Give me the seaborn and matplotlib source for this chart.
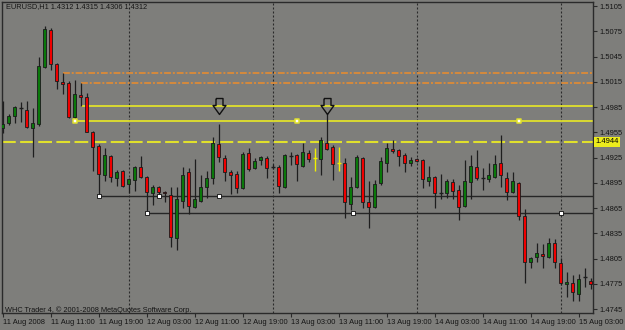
import matplotlib
matplotlib.use("Agg")
import matplotlib.pyplot as plt
import matplotlib.transforms as mtransforms
import seaborn as sns

# EURUSD H1 bars, first bar 11 Aug 2008 03:00
opens = [1.4960, 1.4966, 1.4974, 1.4984, 1.4981, 1.4960, 1.4965, 1.5033, 1.5076, 1.5036,
         1.5015, 1.5013, 1.4973, 1.4999, 1.4997, 1.4955, 1.4939, 1.4904, 1.4927, 1.4901,
         1.4909, 1.4893, 1.4898, 1.4914, 1.4902, 1.4883, 1.4890, 1.4884, 1.4880, 1.4829,
         1.4873, 1.4908, 1.4866, 1.4873, 1.4890, 1.4901, 1.4941, 1.4924, 1.4908, 1.4905,
         1.4889, 1.4930, 1.4912, 1.4922, 1.4924, 1.4914, 1.4914, 1.4890, 1.4927, 1.4928,
         1.4915, 1.4930, 1.4924, 1.4923, 1.4942, 1.4938, 1.4918, 1.4918, 1.4870, 1.4890,
         1.4924, 1.4872, 1.4866, 1.4895, 1.4918, 1.4935, 1.4934, 1.4928, 1.4918, 1.4923,
         1.4922, 1.4897, 1.4902, 1.4883, 1.4883, 1.4896, 1.4886, 1.4867, 1.4896, 1.4914,
         1.4901, 1.4899, 1.4902, 1.4918, 1.4901, 1.4884, 1.4895, 1.4856, 1.4801, 1.4807,
         1.4810, 1.4807, 1.4823, 1.4800, 1.4775, 1.4776, 1.4763, 1.4783, 1.4778]
highs = [1.4992, 1.4977, 1.4986, 1.4991, 1.4992, 1.4984, 1.5044, 1.5081, 1.5079, 1.5037,
         1.5025, 1.5016, 1.5017, 1.5013, 1.5002, 1.4957, 1.4941, 1.4936, 1.4928, 1.4910,
         1.4910, 1.4901, 1.4915, 1.4927, 1.4903, 1.4892, 1.4891, 1.4885, 1.4890, 1.4890,
         1.4914, 1.4912, 1.4923, 1.4904, 1.4909, 1.4949, 1.4965, 1.4928, 1.4910, 1.4909,
         1.4932, 1.4936, 1.4924, 1.4927, 1.4927, 1.4917, 1.4916, 1.4929, 1.4932, 1.4929,
         1.4942, 1.4934, 1.4936, 1.4949, 1.4978, 1.4940, 1.4938, 1.4924, 1.4902, 1.4928,
         1.4926, 1.4897, 1.4898, 1.4926, 1.4942, 1.4946, 1.4935, 1.4930, 1.4926, 1.4924,
         1.4923, 1.4915, 1.4903, 1.4905, 1.4899, 1.4899, 1.4892, 1.4922, 1.4928, 1.4934,
         1.4912, 1.4918, 1.4928, 1.4952, 1.4908, 1.4908, 1.4896, 1.4864, 1.4807, 1.4823,
         1.4822, 1.4829, 1.4828, 1.4806, 1.4789, 1.4785, 1.4787, 1.4794, 1.4782]
lows = [1.4954, 1.4964, 1.4966, 1.4967, 1.4960, 1.4926, 1.4962, 1.5031, 1.5029, 1.5006,
        1.5000, 1.4972, 1.4971, 1.4986, 1.4955, 1.4909, 1.4879, 1.4897, 1.4896, 1.4891,
        1.4890, 1.4883, 1.4885, 1.4901, 1.4860, 1.4869, 1.4878, 1.4872, 1.4819, 1.4815,
        1.4865, 1.4858, 1.4865, 1.4872, 1.4877, 1.4893, 1.4920, 1.4897, 1.4882, 1.4883,
        1.4888, 1.4909, 1.4911, 1.4916, 1.4901, 1.4911, 1.4883, 1.4889, 1.4916, 1.4897,
        1.4914, 1.4920, 1.4909, 1.4904, 1.4934, 1.4898, 1.4909, 1.4853, 1.4863, 1.4889,
        1.4865, 1.4841, 1.4865, 1.4892, 1.4908, 1.4930, 1.4915, 1.4908, 1.4915, 1.4920,
        1.4889, 1.4891, 1.4865, 1.4876, 1.4877, 1.4876, 1.4851, 1.4866, 1.4876, 1.4898,
        1.4886, 1.4896, 1.4901, 1.4890, 1.4874, 1.4883, 1.4851, 1.4776, 1.4794, 1.4801,
        1.4794, 1.4806, 1.4794, 1.4773, 1.4759, 1.4755, 1.4755, 1.4771, 1.4769]
closes = [1.4965, 1.4974, 1.4985, 1.4984, 1.4961, 1.4966, 1.5034, 1.5078, 1.5036, 1.5016,
          1.5012, 1.4973, 1.5000, 1.4997, 1.4955, 1.4938, 1.4905, 1.4928, 1.4902, 1.4908,
          1.4891, 1.4899, 1.4914, 1.4902, 1.4884, 1.4890, 1.4884, 1.4883, 1.4831, 1.4876,
          1.4904, 1.4867, 1.4876, 1.4890, 1.4901, 1.4942, 1.4926, 1.4908, 1.4904, 1.4889,
          1.4929, 1.4911, 1.4921, 1.4926, 1.4912, 1.4914, 1.4891, 1.4928, 1.4927, 1.4917,
          1.4932, 1.4923, 1.4924, 1.4946, 1.4935, 1.4917, 1.4918, 1.4872, 1.4890, 1.4926,
          1.4872, 1.4866, 1.4893, 1.4921, 1.4936, 1.4933, 1.4927, 1.4918, 1.4922, 1.4921,
          1.4899, 1.4902, 1.4883, 1.4883, 1.4897, 1.4885, 1.4866, 1.4897, 1.4915, 1.4901,
          1.4901, 1.4904, 1.4917, 1.4904, 1.4884, 1.4897, 1.4856, 1.4801, 1.4806, 1.4812,
          1.4808, 1.4823, 1.4801, 1.4776, 1.4777, 1.4765, 1.4781, 1.4783, 1.4775]
yellow_bars = [52, 56]

time_ticks = [0, 8, 16, 24, 32, 40, 48, 56, 64, 72, 80, 88, 96]
time_labels = ["11 Aug 2008", "11 Aug 11:00", "11 Aug 19:00", "12 Aug 03:00", "12 Aug 11:00",
               "12 Aug 19:00", "13 Aug 03:00", "13 Aug 11:00", "13 Aug 19:00", "14 Aug 03:00",
               "14 Aug 11:00", "14 Aug 19:00", "15 Aug 03:00"]
day_starts = [21, 45, 69, 93]
price_ticks = [1.5105, 1.5075, 1.5045, 1.5015, 1.4985, 1.4955, 1.4925, 1.4895,
               1.4865, 1.4835, 1.4805, 1.4775, 1.4745]
bid = 1.4944

# drawn objects: (price, first bar)
orange_levels = [(1.5025, 10), (1.5014, 13)]
yellow_levels = [(1.4986, 13), (1.4968, 12)]
yellow_marks = [12, 49, 86]
dark_levels = [(1.4879, 16), (1.4859, 24)]
dark_marks = [[16, 26, 36], [24, 58.3, 93]]
fractal_bars = [36, 54]
fractal_price = 1.4986

BG = "#7e7e7b"
TXT = "#151515"
WICK = "#1e1e1e"
YEL = "#e0e02c"

sns.set_style("ticks", rc={"axes.facecolor": BG, "figure.facecolor": BG,
                           "axes.edgecolor": "#2a2a2a"})
plt.rcParams["font.family"] = ["Liberation Sans", "DejaVu Sans"]

fig = plt.figure(figsize=(6.25, 3.3), dpi=100)
ax = fig.add_axes([2 / 625, 17 / 330, 591 / 625, 311 / 330])
ax.set_xlim(-0.12, 98.38)
ax.set_ylim(1.47403, 1.51098)

# levels
for x in day_starts:
    ax.axvline(x, color="#2a2a2a", lw=0.8, ls=(0, (1.8, 1.8)), zorder=1)
for p, start in orange_levels:
    ax.hlines(p, start, 98.4, color="#d68a3c", lw=1.4, ls=(0, (3.5, 1, 1, 1)), zorder=2)
for p, start in yellow_levels:
    ax.hlines(p, start, 98.4, color=YEL, lw=1.3, zorder=2)
ax.axhline(bid, color=YEL, lw=1.5, ls=(0, (6.6, 2.1)), zorder=2)
for (p, start), marks in zip(dark_levels, dark_marks):
    ax.hlines(p, start, 98.4, color="#262626", lw=1.0, zorder=2)
    sns.scatterplot(x=marks, y=[p] * len(marks), marker="s", s=9, color="white",
                    edgecolor="#222222", linewidth=0.7, ax=ax, zorder=6)
sns.scatterplot(x=yellow_marks, y=[yellow_levels[1][0]] * len(yellow_marks), marker="s",
                s=10, color="white", edgecolor=YEL, linewidth=1.1, ax=ax, zorder=6)

# candles
for i, (o, h, l, c) in enumerate(zip(opens, highs, lows, closes)):
    if i in yellow_bars:
        ax.vlines(i, l, h, color="#f0f000", lw=1.0, zorder=4)
        ax.hlines(o, i - 0.35, i + 0.35, color="#f0f000", lw=1.0, zorder=4)
        continue
    ax.vlines(i, l, h, color=WICK, lw=0.9, zorder=3)
    if o == c:
        ax.hlines(o, i - 0.3, i + 0.3, color=WICK, lw=1.0, zorder=4)
    else:
        col = "#0a780a" if c > o else "#f00000"
        ax.bar(i, abs(c - o), bottom=min(o, c), width=0.55, color=col,
               edgecolor="#1a1a1a", linewidth=0.6, zorder=4)

# fractal arrows
arrow = [(-3.5, 8), (3.5, 8), (3.5, 1), (6.5, 1), (0, -8), (-6.5, 1), (-3.5, 1), (-3.5, 8)]
ax.plot(fractal_bars, [fractal_price] * len(fractal_bars), ls="none", marker=arrow,
        markersize=11.5, markerfacecolor="none", markeredgecolor="#111111",
        markeredgewidth=1.0, zorder=7)

# axes
ax.yaxis.tick_right()
ax.set_yticks(price_ticks)
ax.set_yticklabels([f"{p:.4f}" for p in price_ticks])
ax.set_xticks(time_ticks)
ax.set_xticklabels(time_labels, ha="left")
ax.tick_params(axis="both", direction="out", length=3, width=0.8, color="#2a2a2a",
               labelsize=5.4, labelcolor=TXT, pad=1.5)
for s in ax.spines.values():
    s.set_linewidth(1.0)
    s.set_color("#2a2a2a")

trans = mtransforms.blended_transform_factory(ax.transAxes, ax.transData)
ax.text(1.004, bid, f"{bid:.4f}", transform=trans, ha="left", va="center",
        fontsize=5.4, color="black",
        bbox=dict(boxstyle="square,pad=0.2", fc="#ecec1c", ec="none"))

fig.text(6 / 625, 1 - 7 / 330, "EURUSD,H1 1.4312 1.4315 1.4306 1.4312",
         ha="left", va="center", fontsize=5.3, color=TXT)
fig.text(5 / 625, 1 - 310 / 330, "WHC Trader 4, © 2001-2008 MetaQuotes Software Corp.",
         ha="left", va="center", fontsize=5.3, color=TXT)

fig.savefig("out.png", dpi=100, facecolor=BG)
